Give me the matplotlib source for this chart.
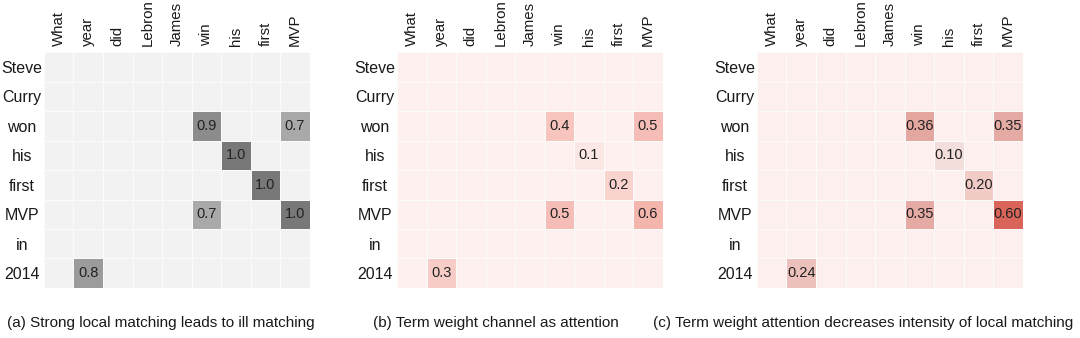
import numpy as np
import matplotlib.pyplot as plt
from matplotlib.colors import LinearSegmentedColormap

plt.rcParams['font.family'] = ['Liberation Sans', 'DejaVu Sans']

query = ["What", "year", "did", "Lebron", "James", "win", "his", "first", "MVP"]
doc = ["Steve", "Curry", "won", "his", "first", "MVP", "in", "2014"]

# local matching strength, rows = document terms, cols = query terms
local_match = [
    [0, 0, 0, 0, 0, 0, 0, 0, 0],
    [0, 0, 0, 0, 0, 0, 0, 0, 0],
    [0, 0, 0, 0, 0, 0.9, 0, 0, 0.7],
    [0, 0, 0, 0, 0, 0, 1.0, 0, 0],
    [0, 0, 0, 0, 0, 0, 0, 1.0, 0],
    [0, 0, 0, 0, 0, 0.7, 0, 0, 1.0],
    [0, 0, 0, 0, 0, 0, 0, 0, 0],
    [0, 0.8, 0, 0, 0, 0, 0, 0, 0],
]
term_weight = [
    [0, 0, 0, 0, 0, 0, 0, 0, 0],
    [0, 0, 0, 0, 0, 0, 0, 0, 0],
    [0, 0, 0, 0, 0, 0.4, 0, 0, 0.5],
    [0, 0, 0, 0, 0, 0, 0.1, 0, 0],
    [0, 0, 0, 0, 0, 0, 0, 0.2, 0],
    [0, 0, 0, 0, 0, 0.5, 0, 0, 0.6],
    [0, 0, 0, 0, 0, 0, 0, 0, 0],
    [0, 0.3, 0, 0, 0, 0, 0, 0, 0],
]
weighted_match = [
    [0, 0, 0, 0, 0, 0, 0, 0, 0],
    [0, 0, 0, 0, 0, 0, 0, 0, 0],
    [0, 0, 0, 0, 0, 0.36, 0, 0, 0.35],
    [0, 0, 0, 0, 0, 0, 0.10, 0, 0],
    [0, 0, 0, 0, 0, 0, 0, 0.20, 0],
    [0, 0, 0, 0, 0, 0.35, 0, 0, 0.60],
    [0, 0, 0, 0, 0, 0, 0, 0, 0],
    [0, 0.24, 0, 0, 0, 0, 0, 0, 0],
]

captions = [
    "(a) Strong local matching leads to ill matching",
    "(b) Term weight channel as attention",
    "(c) Term weight attention decreases intensity of local matching",
]

grays = LinearSegmentedColormap.from_list(
    "grays", [(0, "#f2f2f2"), (0.7, "#a9a9a9"), (0.9, "#8c8c8c"), (1.0, "#787878")])
pinks = LinearSegmentedColormap.from_list(
    "pinks", [(0, "#fdf0ee"), (0.1, "#fbe7e4"), (0.2, "#f9d4cf"), (0.6, "#f4b5ac"), (1.0, "#ef9f94")])
reds = LinearSegmentedColormap.from_list(
    "reds", [(0, "#fcefed"), (0.1 / 0.6, "#f4dedb"), (0.2 / 0.6, "#f1cbc6"),
             (0.24 / 0.6, "#edc1bb"), (0.35 / 0.6, "#e4aaa3"), (1.0, "#d9645a")])

panels = [
    (local_match, grays, 1.0, "{:.1f}", 0.0407),
    (term_weight, pinks, 1.0, "{:.1f}", 0.3676),
    (weighted_match, reds, 0.6, "{:.2f}", 0.7009),
]
caption_x = [0.149, 0.459, 0.799]

fig = plt.figure(figsize=(10.8, 3.38), dpi=100)

for (mat, cmap, vmax, fmt, left), cap, cx in zip(panels, captions, caption_x):
    data = np.array(mat)
    ax = fig.add_axes([left, 0.148, 0.246, 0.698])
    ax.pcolormesh(data, cmap=cmap, vmin=0, vmax=vmax,
                  edgecolors="#fbfbfb", linewidth=0.4)
    ax.set_xlim(0, len(query))
    ax.set_ylim(len(doc), 0)
    for i in range(len(doc)):
        for j in range(len(query)):
            if data[i, j] > 0:
                ax.text(j + 0.5, i + 0.5, fmt.format(data[i, j]),
                        ha="center", va="center", fontsize=10.5, color="#222222")
    ax.xaxis.tick_top()
    ax.set_xticks(np.arange(len(query)) + 0.5)
    ax.set_xticklabels(query, rotation=90, fontsize=10.8, color="#1a1a1a")
    ax.set_yticks(np.arange(len(doc)) + 0.5)
    ax.set_yticklabels(doc, fontsize=11.5, color="#1a1a1a", ha="center")
    ax.tick_params(length=0, axis="x", pad=4)
    ax.tick_params(length=0, axis="y", pad=16)
    for s in ax.spines.values():
        s.set_visible(False)
    fig.text(cx, 0.045, cap, ha="center", va="center", fontsize=11,
             color="#1a1a1a")

fig.savefig("out.png", dpi=100, facecolor="white")
